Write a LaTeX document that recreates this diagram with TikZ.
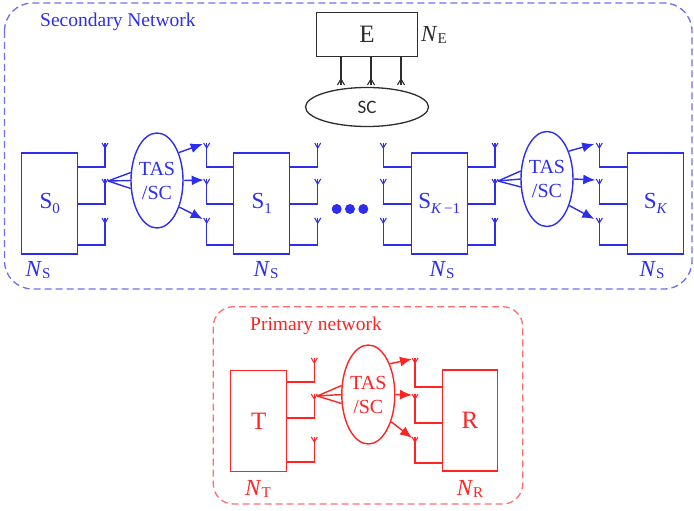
\documentclass[tikz,border=0pt]{standalone}
\usepackage{fontspec}
\setmainfont{Liberation Serif}
\newfontfamily\scfont{Carlito}
\usetikzlibrary{arrows.meta,calc,shapes.geometric}
\definecolor{sblue}{RGB}{45,45,240}
\definecolor{sdashc}{RGB}{110,110,240}
\definecolor{pred}{RGB}{255,35,35}
\definecolor{pdashc}{RGB}{255,110,110}
\definecolor{egray}{RGB}{45,45,45}
\newcommand\lowsub[1]{\raisebox{-0.5ex}{\fontsize{15}{15}\selectfont #1}}
\newcommand\Nsym[1]{{\fontsize{23}{23}\selectfont\textit{N}}\lowsub{#1}}
\tikzset{
  ant/.pic={\draw[line width=1.1pt] (-3,0) -- (0,5) -- (3,0); \draw[line width=1.1pt] (0,0) -- (0,5);},
  iant/.pic={\draw[line width=1.1pt] (-3.5,0) -- (0,-6) -- (3.5,0); \draw[line width=1.1pt] (0,0) -- (0,-6);},
  box/.style={draw, rectangle, inner sep=0pt, line width=1.4pt, minimum width=56, minimum height=101, font=\fontsize{23}{23}\selectfont},
  tas/.style={draw, ellipse, inner sep=0pt, line width=1.4pt, minimum width=52, minimum height=95, align=center, font=\fontsize{20}{24}\selectfont},
  conn/.style={line width=1.4pt},
  arr/.style={line width=1.4pt, -{Latex[length=12pt,width=10pt]}},
  dashbox/.style={line width=1.3pt, dash pattern=on 7pt off 4pt},
  dotn/.style={circle, fill=sblue, inner sep=0pt, minimum size=10},
  lbl/.style={inner sep=0pt},
}
\begin{document}
\begin{tikzpicture}[x=1pt,y=-1pt]
\useasboundingbox (0,0) rectangle (694,511);
% ---------------- Secondary network ----------------
\draw[dashbox, sdashc, rounded corners=28] (4.5,3) rectangle (692,289);
\node[lbl, anchor=base west, text=sblue, font=\fontsize{19.5}{19.5}\selectfont] (stitle) at (40,27) {Secondary Network};

% Eavesdropper
\node[box, draw=egray, minimum width=101, minimum height=44, text=egray, font=\fontsize{25}{25}\selectfont] (E) at (367,34.5) {E};
\node[lbl, text=egray] (NE) at (434,35) {\Nsym{E}};
\node[draw=egray, ellipse, line width=1.3pt, inner sep=0pt, minimum width=123, minimum height=39, text=egray, font=\scfont\fontsize{19}{19}\selectfont] (SC) at (367,107) {SC};
\foreach \x/\n in {341/1,371/2,401/3}{
  \coordinate (e\n) at (\x,85);
  \draw[conn, egray] (E.south -| e\n) -- (e\n);
  \pic[egray] at (e\n) {iant};
}

\begin{scope}[sblue]
\node[box] (S0) at (49.7,203.5) {S\lowsub{0}};
\node[box] (S1) at (261.7,203.5) {S\lowsub{1}};
\node[box] (SK1) at (439.2,203.5) {S\lowsub{\textit{K}\,−1}};
\node[box] (SK) at (655.5,203.5) {S\lowsub{\textit{K}}};
\node[lbl] (NS0) at (38,270) {\Nsym{S}};
\node[lbl] (NS1) at (266,270) {\Nsym{S}};
\node[lbl] (NS2) at (442,270) {\Nsym{S}};
\node[lbl] (NS3) at (652,270) {\Nsym{S}};
\node[tas] (T1) at (157,180.5) {TAS\\/SC};
\node[tas] (T2) at (547,179) {TAS\\/SC};
\node[dotn] (d1) at (336.7,209) {};
\node[dotn] (d2) at (350,209) {};
\node[dotn] (d3) at (363.3,209) {};

\foreach \i/\ly/\ay in {1/167/143,2/204/179,3/245/218}{
  \coordinate (s0r\i) at (105,\ay);
  \coordinate (s1l\i) at (206.7,\ay);
  \coordinate (s1r\i) at (317.7,\ay);
  \coordinate (skl\i) at (383.3,\ay);
  \coordinate (skr\i) at (495,\ay);
  \coordinate (sKl\i) at (599.3,\ay);
  \draw[conn] (S0.east |- 0,\ly) -| (s0r\i);
  \draw[conn] (S1.west |- 0,\ly) -| (s1l\i);
  \draw[conn] (S1.east |- 0,\ly) -| (s1r\i);
  \draw[conn] (SK1.west |- 0,\ly) -| (skl\i);
  \draw[conn] (SK1.east |- 0,\ly) -| (skr\i);
  \draw[conn] (SK.west |- 0,\ly) -| (sKl\i);
  \pic at (s0r\i) {ant};
  \pic at (s1l\i) {ant};
  \pic at (s1r\i) {ant};
  \pic at (skl\i) {ant};
  \pic at (skr\i) {ant};
  \pic at (sKl\i) {ant};
}
% fans
\foreach \dy in {-8,0,8}{
  \draw[conn] ($(s0r2)+(3,2)$) -- ($(T1.west)+(0.5,\dy)$);
  \draw[conn] ($(skr2)+(3,2)$) -- ($(T2.west)+(0.5,\dy)$);
}
% arrows
\draw[arr] (T1.52) -- ($(s1l1)+(-4,1)$);
\draw[arr] (T1.east) -- ($(s1l2)+(-3,1)$);
\draw[arr] (T1.-50) -- ($(s1l3)+(-4,1)$);
\draw[arr] (T2.52) -- ($(sKl1)+(-5,1)$);
\draw[arr] (T2.east) -- ($(sKl2)+(-4,1)$);
\draw[arr] (T2.-50) -- ($(sKl3)+(-5,1)$);
\end{scope}

% ---------------- Primary network ----------------
\begin{scope}[pred]
\draw[dashbox, pdashc, rounded corners=20] (213.3,306.7) rectangle (522.7,504);
\node[lbl, anchor=base west, font=\fontsize{19.5}{19.5}\selectfont] (ptitle) at (250,330) {Primary network};
\node[box, font=\fontsize{25}{25}\selectfont] (T) at (258.7,421) {T};
\node[box, minimum width=55, font=\fontsize{25}{25}\selectfont] (R) at (470,420.5) {R};
\node[lbl] (NT) at (258,489) {\Nsym{T}};
\node[lbl] (NR) at (470,489) {\Nsym{R}};
\node[tas, minimum width=53, minimum height=99] (TP) at (368.3,394.5) {TAS\\/SC};
\foreach \i/\tly/\rly/\ay in {1/382/387/358,2/418/423/394,3/462/463/437}{
  \coordinate (tr\i) at (314.3,\ay);
  \coordinate (rl\i) at (415,\ay);
  \draw[conn] (T.east |- 0,\tly) -| (tr\i);
  \draw[conn] (R.west |- 0,\rly) -| (rl\i);
  \pic at (tr\i) {ant};
  \pic at (rl\i) {ant};
}
\foreach \dy in {-9,0,9}{
  \draw[conn] ($(tr2)+(3,2)$) -- ($(TP.west)+(0.5,\dy)$);
}
\draw[arr] (TP.55) -- ($(rl1)+(-3,1)$);
\draw[arr] (TP.east) -- ($(rl2)+(-3,1)$);
\draw[arr] (TP.-50) -- ($(rl3)+(-3,1)$);
\end{scope}
\end{tikzpicture}
\end{document}
